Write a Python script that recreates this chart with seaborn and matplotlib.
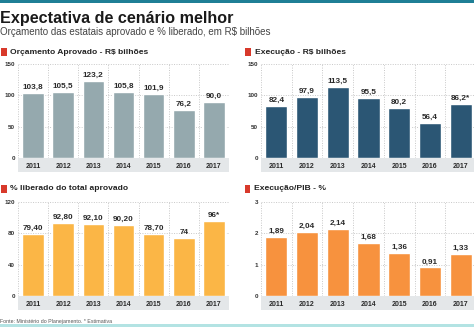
import matplotlib
matplotlib.use("Agg")
import matplotlib.pyplot as plt
import seaborn as sns
import pandas as pd
from matplotlib.patches import Rectangle

sns.set_theme(style="white")
plt.rcParams['font.family'] = ['Liberation Sans', 'DejaVu Sans']
NARROW = ["Liberation Sans Narrow", "Liberation Sans", "DejaVu Sans"]

years = ["2011", "2012", "2013", "2014", "2015", "2016", "2017"]
orcamento = [103.8, 105.5, 123.2, 105.8, 101.9, 76.2, 90.0]
orcamento_lbl = ["103,8", "105,5", "123,2", "105,8", "101,9", "76,2", "90,0"]
execucao = [82.4, 97.9, 113.5, 95.5, 80.2, 56.4, 86.2]
execucao_lbl = ["82,4", "97,9", "113,5", "95,5", "80,2", "56,4", "86,2*"]
liberado = [79.4, 92.8, 92.1, 90.2, 78.7, 74, 96]
liberado_lbl = ["79,40", "92,80", "92,10", "90,20", "78,70", "74", "96*"]
exec_pib = [1.89, 2.04, 2.14, 1.68, 1.36, 0.91, 1.33]
exec_pib_lbl = ["1,89", "2,04", "2,14", "1,68", "1,36", "0,91", "1,33"]

W, H = 474, 327
fig = plt.figure(figsize=(W / 100, H / 100), dpi=100)
fig.patch.set_facecolor("white")

def fx(x):
    return x / W

def fy(y):
    return 1 - y / H

# top and bottom rules
fig.add_artist(Rectangle((0, fy(3)), 1, 3 / H, transform=fig.transFigure,
                         color="#1f7f96", lw=0))
fig.add_artist(Rectangle((0, 0), 1, 3 / H, transform=fig.transFigure,
                         color="#b3e3e3", lw=0))

fig.text(fx(0), fy(22.5), "Expectativa de cenário melhor", fontsize=11.6,
         fontweight="heavy", color="#1a1a1a", va="baseline", ha="left",
         family=NARROW)
fig.text(fx(0), fy(32), "Orçamento das estatais aprovado e % liberado, em R$ bilhões",
         fontsize=7.0, color="#444444", va="center", ha="left")
fig.text(fx(0), fy(321), "Fonte: Ministério do Planejamento. * Estimativa",
         fontsize=3.8, color="#555555", va="center", ha="left")

panels = [
    dict(title="Orçamento Aprovado - R$ bilhões", vals=orcamento, lbl=orcamento_lbl,
         color="#95a9ae", ticks=[0, 50, 100, 150], box=(18, 229, 64, 158),
         tx=(0, 10, 52)),
    dict(title="Execução - R$ bilhões", vals=execucao, lbl=execucao_lbl,
         color="#2b5674", ticks=[0, 50, 100, 150], box=(261, 476, 64, 158),
         tx=(245, 255, 52)),
    dict(title="% liberado do total aprovado", vals=liberado, lbl=liberado_lbl,
         color="#fbb646", ticks=[0, 40, 80, 120], box=(18, 229, 202, 296),
         tx=(0, 10, 189)),
    dict(title="Execução/PIB - %", vals=exec_pib, lbl=exec_pib_lbl,
         color="#f7923e", ticks=[0, 1, 2, 3], box=(261, 476, 202, 296),
         tx=(244, 254, 189)),
]

for p in panels:
    l, r, t, b = p["box"]
    ax = fig.add_axes([fx(l), fy(b), (r - l) / W, (b - t) / H])
    df = pd.DataFrame({"year": years, "value": p["vals"]})
    sns.barplot(data=df, x="year", y="value", color=p["color"], width=0.72,
                saturation=1, ax=ax)
    ax.set_xlim(-0.5, 6.5)
    ax.set_ylim(0, p["ticks"][-1])
    ax.set_yticks(p["ticks"])
    ax.set_yticklabels([str(v) for v in p["ticks"]])
    ax.set_xlabel("")
    ax.set_ylabel("")
    for s in ax.spines.values():
        s.set_visible(False)
    ax.tick_params(axis="y", length=0, pad=2, labelsize=4.5, labelcolor="#333333")
    ax.tick_params(axis="x", length=0, pad=3.4, labelsize=5.0, labelcolor="#2a2a2a")
    for lab in ax.get_xticklabels():
        lab.set_fontweight("bold")
        lab.set_family(NARROW)
    for lab in ax.get_yticklabels():
        lab.set_fontweight("bold")
        lab.set_family(NARROW)
    ax.set_axisbelow(True)
    for yv in p["ticks"][1:]:
        ax.axhline(yv, color="#c8c8c8", lw=0.7, ls=(0, (1, 1.5)), zorder=0)
    for xv in [i - 0.5 for i in range(8)]:
        ax.axvline(xv, color="#c8c8c8", lw=0.7, ls=(0, (1, 1.5)), zorder=0)
    # category band
    ax.add_patch(Rectangle((0, -14 / 94), 1, 14 / 94, transform=ax.transAxes,
                           color="#e4e7e9", lw=0, clip_on=False, zorder=0))
    for i, (v, s) in enumerate(zip(p["vals"], p["lbl"])):
        ax.annotate(s, (i, v), xytext=(0, 1.5), textcoords="offset points",
                    ha="center", va="bottom", fontsize=5.9, fontweight="bold",
                    color="#2a2a2a", family=NARROW)
    x0, x1, ty = p["tx"]
    fig.add_artist(Rectangle((fx(x0 + 0.5), fy(ty + 4)), 6 / W, 8 / H,
                             transform=fig.transFigure, color="#d8392b", lw=0))
    fig.text(fx(x1), fy(ty), p["title"], fontsize=6.1, fontweight="bold",
             color="#222222", va="center", ha="left", family=NARROW)

fig.savefig("out.png", dpi=100)
